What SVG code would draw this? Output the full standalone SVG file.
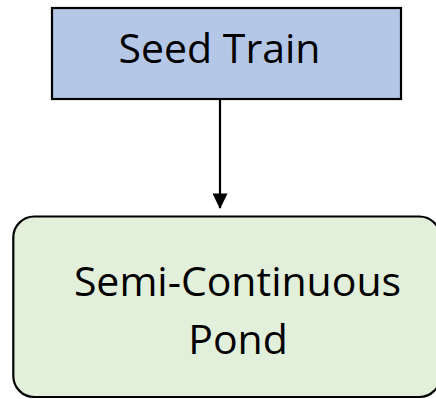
<svg xmlns="http://www.w3.org/2000/svg" width="436" height="399" viewBox="0 0 436 399">
  <style>
    .lbl { font-family: "Open Sans", "Liberation Sans", sans-serif; font-size: 41px; fill: #000; text-anchor: middle; }
    .box { stroke: #000; stroke-width: 2.2; }
  </style>
  <defs>
    <marker id="arrow" markerWidth="17" markerHeight="15" refX="16" refY="8.3" orient="auto" markerUnits="userSpaceOnUse" viewBox="0 0 17 16.6">
      <path d="M0,0 L17,8.3 L0,16.6 Z" fill="#000"/>
    </marker>
  </defs>
  <rect width="436" height="399" fill="#fff"/>
  <g id="connectors">
    <line x1="220" y1="99" x2="220" y2="208" stroke="#000" stroke-width="2.2" marker-end="url(#arrow)"/>
  </g>
  <g id="seed-train">
    <rect class="box" x="52" y="8" width="349" height="91" fill="#B4C7E7"/>
    <text class="lbl" x="219.5" y="63">Seed Train</text>
  </g>
  <g id="semi-continuous-pond">
    <rect class="box" x="13.3" y="216.5" width="427" height="180.5" rx="21" ry="21" fill="#E2EFDA"/>
    <text class="lbl" x="237.5" y="296">Semi-Continuous</text>
    <text class="lbl" x="238" y="354">Pond</text>
  </g>
</svg>
